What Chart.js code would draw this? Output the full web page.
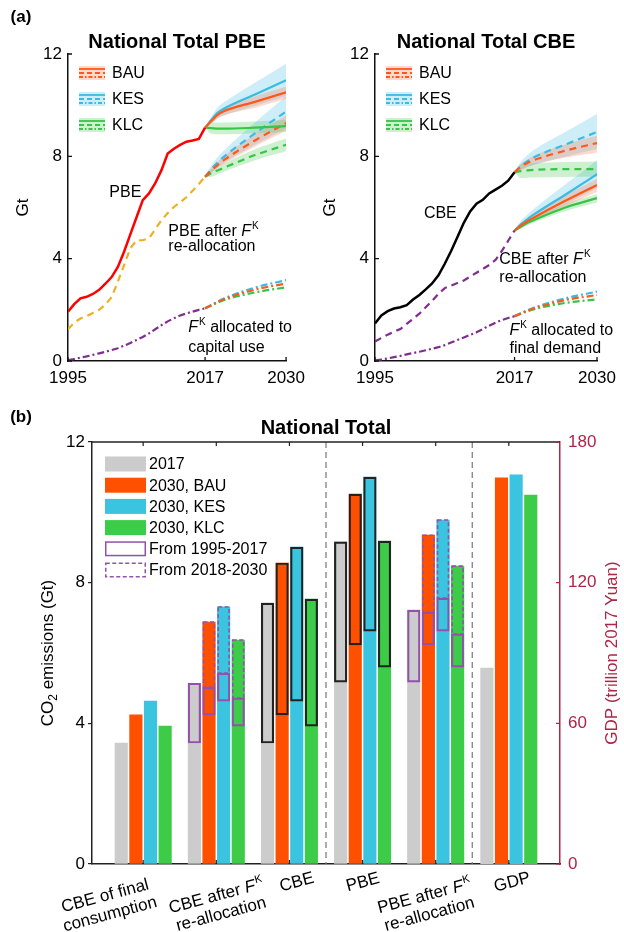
<!DOCTYPE html>
<html>
<head>
<meta charset="utf-8">
<script src="https://cdn.jsdelivr.net/npm/chart.js@4.4.1/dist/chart.umd.min.js"></script>
<style>
  body { margin: 0; background: #fff; }
  #wrap { position: relative; width: 624px; height: 932px; }
  #wrap canvas { position: absolute; }
</style>
</head>
<body>
<div id="wrap">
  <canvas id="pbe" width="312" height="400" style="left:0;top:0"></canvas>
  <canvas id="cbe" width="312" height="400" style="left:312px;top:0"></canvas>
  <canvas id="bars" width="624" height="542" style="left:0;top:390px"></canvas>
</div>
<script>
const FONT = '"Liberation Sans", Arial, Helvetica, sans-serif';

// historical series, Gt CO2
const histYears = [1995, 1996, 1997, 1998, 1999, 2000, 2001, 2002, 2003, 2004, 2005, 2006,
                   2007, 2008, 2009, 2010, 2011, 2012, 2013, 2014, 2015, 2016, 2017];
const pbeHist = [1.93, 2.22, 2.45, 2.51, 2.62, 2.78, 3.02, 3.28, 3.68, 4.27, 4.95, 5.62,
                 6.29, 6.55, 6.95, 7.46, 8.11, 8.30, 8.45, 8.57, 8.62, 8.68, 9.12];
const pbeReallocHist = [1.24, 1.50, 1.66, 1.76, 1.88, 2.00, 2.20, 2.50, 3.10, 3.75, 4.40, 4.72,
                        4.72, 4.80, 5.15, 5.50, 5.78, 6.02, 6.20, 6.40, 6.65, 6.92, 7.20];
const fkCapHist = [0.03, 0.08, 0.13, 0.18, 0.24, 0.30, 0.36, 0.43, 0.50, 0.60, 0.70, 0.82,
                   0.94, 1.08, 1.24, 1.40, 1.55, 1.67, 1.78, 1.86, 1.93, 2.00, 2.06];
const cbeHist = [1.47, 1.78, 1.95, 2.05, 2.10, 2.18, 2.40, 2.58, 2.80, 3.03, 3.35, 3.80,
                 4.30, 4.85, 5.40, 5.85, 6.15, 6.30, 6.55, 6.70, 6.85, 7.05, 7.38];
const cbeReallocHist = [0.76, 0.90, 1.03, 1.15, 1.25, 1.45, 1.65, 1.85, 2.10, 2.35, 2.62, 2.85,
                        2.95, 3.05, 3.15, 3.30, 3.45, 3.60, 3.75, 3.95, 4.30, 4.70, 5.10];
const fkFinHist = [0.02, 0.06, 0.10, 0.15, 0.20, 0.26, 0.31, 0.36, 0.42, 0.48, 0.54, 0.62,
                   0.72, 0.82, 0.92, 1.02, 1.12, 1.25, 1.38, 1.50, 1.60, 1.68, 1.75];

// scenario projections 2017-2030 (central value, low and high of the range)
const projYears = [2017, 2018, 2019, 2020, 2025, 2030];
const pbeBAU   = [9.12, 9.38, 9.62, 9.76, 10.13, 10.50];
const pbeBAULo = [9.12, 9.28, 9.48, 9.60, 9.90, 10.25];
const pbeBAUHi = [9.12, 9.48, 9.74, 9.90, 10.35, 10.72];
const pbeKES   = [9.12, 9.42, 9.70, 9.86, 10.42, 10.97];
const pbeKESLo = [9.12, 9.28, 9.50, 9.60, 9.98, 10.35];
const pbeKESHi = [9.12, 9.56, 9.90, 10.10, 10.88, 11.62];
const pbeKLC   = [9.12, 9.10, 9.08, 9.08, 9.12, 9.18];
const pbeKLCLo = [9.12, 8.88, 8.86, 8.86, 8.90, 8.95];
const pbeKLCHi = [9.12, 9.33, 9.32, 9.32, 9.36, 9.42];

const pbeReBAU   = [7.20, 7.45, 7.66, 7.85, 8.62, 9.30];
const pbeReBAULo = [7.20, 7.36, 7.55, 7.70, 8.38, 9.00];
const pbeReBAUHi = [7.20, 7.55, 7.78, 8.00, 8.86, 9.60];
const pbeReKES   = [7.20, 7.50, 7.76, 7.98, 8.90, 9.75];
const pbeReKESLo = [7.20, 7.36, 7.56, 7.74, 8.45, 9.10];
const pbeReKESHi = [7.20, 7.64, 7.96, 8.22, 9.32, 10.35];
const pbeReKLC   = [7.20, 7.34, 7.45, 7.55, 8.05, 8.45];
const pbeReKLCLo = [7.20, 7.20, 7.30, 7.40, 7.85, 8.20];
const pbeReKLCHi = [7.20, 7.48, 7.60, 7.72, 8.28, 8.70];

const fkCapBAU = [2.06, 2.18, 2.30, 2.41, 2.79, 3.03];
const fkCapKES = [2.06, 2.19, 2.32, 2.44, 2.87, 3.16];
const fkCapKLC = [2.06, 2.17, 2.28, 2.38, 2.68, 2.88];

const cbeBAU   = [7.38, 7.58, 7.74, 7.85, 8.22, 8.52];
const cbeBAULo = [7.38, 7.46, 7.58, 7.67, 7.95, 8.15];
const cbeBAUHi = [7.38, 7.70, 7.88, 8.02, 8.46, 8.80];
const cbeKES   = [7.38, 7.62, 7.80, 7.95, 8.46, 8.95];
const cbeKESLo = [7.38, 7.47, 7.58, 7.66, 7.98, 8.30];
const cbeKESHi = [7.38, 7.78, 8.04, 8.24, 8.95, 9.65];
const cbeKLC   = [7.38, 7.42, 7.45, 7.47, 7.50, 7.50];
const cbeKLCLo = [7.38, 7.15, 7.16, 7.17, 7.19, 7.20];
const cbeKLCHi = [7.38, 7.70, 7.72, 7.74, 7.78, 7.80];

const cbeReBAU   = [5.10, 5.30, 5.46, 5.60, 6.26, 6.88];
const cbeReBAULo = [5.10, 5.21, 5.36, 5.49, 6.06, 6.62];
const cbeReBAUHi = [5.10, 5.39, 5.56, 5.72, 6.46, 7.12];
const cbeReKES   = [5.10, 5.34, 5.54, 5.72, 6.50, 7.30];
const cbeReKESLo = [5.10, 5.20, 5.36, 5.50, 6.12, 6.76];
const cbeReKESHi = [5.10, 5.48, 5.72, 5.94, 6.90, 7.85];
const cbeReKLC   = [5.10, 5.25, 5.39, 5.50, 6.00, 6.37];
const cbeReKLCLo = [5.10, 5.17, 5.30, 5.40, 5.86, 6.20];
const cbeReKLCHi = [5.10, 5.33, 5.48, 5.60, 6.14, 6.52];

const fkFinBAU = [1.75, 1.86, 1.96, 2.05, 2.38, 2.58];
const fkFinKES = [1.75, 1.87, 1.98, 2.08, 2.45, 2.71];
const fkFinKLC = [1.75, 1.85, 1.94, 2.02, 2.27, 2.41];

const yearTicks = [1995, 2017, 2030];
const gtTicks = [0, 4, 8, 12];

// panel (b): groups of bars, slot order 2017 / BAU / KES / KLC
const barGroups = [['CBE of final', 'consumption'], ['CBE after F^K', 're-allocation'], ['CBE'],
                   ['PBE'], ['PBE after F^K', 're-allocation'], ['GDP']];
const emis2017 = [3.44, 5.14, 7.42, 9.16, 7.22];
const emisBAU  = [4.24, 6.88, 8.56, 10.52, 9.35];
const emisKES  = [4.63, 7.31, 9.01, 11.00, 9.78];
const emisKLC  = [3.92, 6.37, 7.53, 9.18, 8.47];
const gdp = [83.6, 164.7, 166.0, 157.4];
const gdpTicks = [0, 60, 120, 180];

const rangeCBE = [[3.44, 7.42], [4.24, 8.56], [4.63, 9.01], [3.92, 7.53]];
const rangePBE = [[5.17, 9.16], [6.23, 10.52], [6.62, 11.00], [5.60, 9.18]];
const pastReallocCBE = [[3.44, 5.14], [4.24, 5.03], [4.63, 5.43], [3.92, 4.72]];
const futureReallocCBE = [null, [5.03, 6.88], [5.43, 7.31], [4.72, 6.37]];
const pastReallocPBE = [[5.17, 7.22], [6.23, 7.16], [6.62, 7.56], [5.60, 6.54]];
const futureReallocPBE = [null, [7.16, 9.35], [7.56, 9.78], [6.54, 8.47]];

// styles
const COL = { BAU: 'rgb(255,88,24)', KES: 'rgb(56,188,226)', KLC: 'rgb(56,196,72)' };
const BAND = { BAU: 'rgba(255,130,90,0.30)', KES: 'rgba(100,200,232,0.32)', KLC: 'rgba(90,205,100,0.30)' };
const GOLD = 'rgb(237,177,32)';
const PURPLE = 'rgb(126,47,142)';
const BOXPURPLE = 'rgb(146,82,172)';
const CRIMSON = 'rgb(176,36,70)';
const GREY = 'rgb(204,204,204)', ORANGE = 'rgb(255,80,0)', CYAN = 'rgb(58,196,224)', GREEN = 'rgb(60,204,72)';
const DASH = [7, 5], DASHDOT = [7, 3, 2, 3];

Chart.defaults.font.family = FONT;
Chart.defaults.color = '#111';

const pts = (xs, ys) => xs.map((x, i) => ({ x, y: ys[i] }));

function line(xs, ys, color, dash, width, smooth) {
  return { data: pts(xs, ys), borderColor: color, borderDash: dash, borderWidth: width,
           pointRadius: 0, fill: false, tension: 0, order: 0,
           cubicInterpolationMode: smooth ? 'monotone' : 'default' };
}
function band(xs, lo, hi, color) {
  return [
    { data: pts(xs, hi), borderWidth: 0, borderColor: 'transparent', backgroundColor: color,
      pointRadius: 0, fill: '+1', order: 1, cubicInterpolationMode: 'monotone' },
    { data: pts(xs, lo), borderWidth: 0, borderColor: 'transparent',
      pointRadius: 0, fill: false, order: 1, cubicInterpolationMode: 'monotone' }
  ];
}

// text with an italic F and superscript K wherever "F^K" appears
function richText(ctx, str, x, y, size, align, color) {
  const segs = [];
  str.split('F^K').forEach((s, i, arr) => {
    if (s) segs.push([s, size + 'px ' + FONT, 0, 0]);
    if (i < arr.length - 1) {
      segs.push(['F', 'italic ' + size + 'px ' + FONT, 0, 1]);
      segs.push(['K', Math.round(size * 0.62) + 'px ' + FONT, -0.42 * size, 0]);
    }
  });
  ctx.save();
  ctx.fillStyle = color || '#000';
  ctx.textAlign = 'left';
  ctx.textBaseline = 'alphabetic';
  let w = 0;
  segs.forEach(sg => { ctx.font = sg[1]; sg.push(ctx.measureText(sg[0]).width + sg[3]); w += sg[4]; });
  let cx = align === 'center' ? x - w / 2 : x;
  const base = y + 0.36 * size;
  segs.forEach(sg => { ctx.font = sg[1]; ctx.fillText(sg[0], cx, base + sg[2]); cx += sg[4]; });
  ctx.restore();
}

const panelDecor = {
  id: 'panelDecor',
  afterDraw(chart, args, o) {
    const { ctx, chartArea: a, scales: { x, y } } = chart;
    ctx.save();
    ctx.strokeStyle = '#111';
    ctx.lineWidth = 1.3;
    ctx.beginPath();
    gtTicks.forEach(v => { const p = y.getPixelForValue(v); ctx.moveTo(a.left, p); ctx.lineTo(a.left + 4, p); });
    yearTicks.forEach(v => { const p = x.getPixelForValue(v); ctx.moveTo(p, a.bottom); ctx.lineTo(p, a.bottom - 4); });
    ctx.stroke();

    ctx.fillStyle = '#000';
    ctx.textAlign = 'center';
    ctx.textBaseline = 'middle';
    ctx.font = 'bold 20px ' + FONT;
    ctx.fillText(o.title, (a.left + a.right) / 2, a.top - 12);
    if (o.panel) {
      ctx.font = 'bold 17px ' + FONT;
      ctx.fillText(o.panel, 21, 17);
    }
    ctx.save();
    ctx.translate(a.left - 45, (a.top + a.bottom) / 2);
    ctx.rotate(-Math.PI / 2);
    ctx.font = '17px ' + FONT;
    ctx.fillText('Gt', 0, 0);
    ctx.restore();

    o.notes.forEach(n => richText(ctx, n.text, x.getPixelForValue(n.x), y.getPixelForValue(n.y), 16, n.align));

    // scenario legend: band swatch with the three line styles
    ['BAU', 'KES', 'KLC'].forEach((s, i) => {
      const cy = a.top + 19 + i * 26;
      const x0 = a.left + 11;
      ctx.fillStyle = BAND[s];
      ctx.fillRect(x0, cy - 7, 26, 14);
      ctx.strokeStyle = COL[s];
      ctx.lineWidth = 1.8;
      [[[], -4], [[5, 3], 0], [[4, 2, 1.5, 2], 4]].forEach(([dash, dy]) => {
        ctx.setLineDash(dash);
        ctx.beginPath();
        ctx.moveTo(x0, cy + dy);
        ctx.lineTo(x0 + 26, cy + dy);
        ctx.stroke();
      });
      ctx.setLineDash([]);
      ctx.fillStyle = '#000';
      ctx.font = '16px ' + FONT;
      ctx.textAlign = 'left';
      ctx.fillText(s, x0 + 33, cy + 1);
    });
    ctx.restore();
  }
};

function panelConfig(datasets, axisLeft, padRight, decor) {
  return {
    type: 'line',
    data: { datasets },
    options: {
      responsive: false, animation: false, events: [],
      layout: { padding: { top: 54, right: padRight, left: 0, bottom: 0 } },
      plugins: { legend: { display: false }, tooltip: { enabled: false }, panelDecor: decor },
      scales: {
        x: {
          type: 'linear', min: 1995, max: 2030,
          afterBuildTicks: s => { s.ticks = yearTicks.map(v => ({ value: v })); },
          afterFit: s => { s.height = 39; },
          grid: { display: false, drawTicks: false },
          border: { color: '#111', width: 1.5 },
          ticks: { font: { size: 17 }, color: '#000', padding: 7, maxRotation: 0, autoSkip: false, callback: v => String(v) }
        },
        y: {
          min: 0, max: 12,
          afterBuildTicks: s => { s.ticks = gtTicks.map(v => ({ value: v })); },
          afterFit: s => { s.width = axisLeft; },
          grid: { display: false, drawTicks: false },
          border: { color: '#111', width: 1.5 },
          ticks: { font: { size: 17 }, color: '#000', padding: 6 }
        }
      }
    },
    plugins: [panelDecor]
  };
}

// (a) left: production-based emissions
const pbeSets = [
  line(histYears, pbeHist, 'rgb(255,0,0)', [], 2.5),
  line(histYears, pbeReallocHist, GOLD, DASH, 2.2),
  line(histYears, fkCapHist, PURPLE, DASHDOT, 2.2),
  ...band(projYears, pbeBAULo, pbeBAUHi, BAND.BAU),
  ...band(projYears, pbeKESLo, pbeKESHi, BAND.KES),
  ...band(projYears, pbeKLCLo, pbeKLCHi, BAND.KLC),
  ...band(projYears, pbeReBAULo, pbeReBAUHi, BAND.BAU),
  ...band(projYears, pbeReKESLo, pbeReKESHi, BAND.KES),
  ...band(projYears, pbeReKLCLo, pbeReKLCHi, BAND.KLC),
  line(projYears, pbeBAU, COL.BAU, [], 2.2, true),
  line(projYears, pbeKES, COL.KES, [], 2.2, true),
  line(projYears, pbeKLC, COL.KLC, [], 2.2, true),
  line(projYears, pbeReBAU, COL.BAU, DASH, 2.2, true),
  line(projYears, pbeReKES, COL.KES, DASH, 2.2, true),
  line(projYears, pbeReKLC, COL.KLC, DASH, 2.2, true),
  line(projYears, fkCapBAU, COL.BAU, DASHDOT, 2.2, true),
  line(projYears, fkCapKES, COL.KES, DASHDOT, 2.2, true),
  line(projYears, fkCapKLC, COL.KLC, DASHDOT, 2.2, true)
];
new Chart(document.getElementById('pbe'), panelConfig(pbeSets, 68, 23, {
  title: 'National Total PBE', panel: '(a)',
  notes: [
    { text: 'PBE', x: 2004.2, y: 6.64, align: 'center' },
    { text: 'PBE after F^K', x: 2011.1, y: 5.12 },
    { text: 're-allocation', x: 2011.1, y: 4.53 },
    { text: 'F^K allocated to', x: 2014.3, y: 1.37 },
    { text: 'capital use', x: 2014.3, y: 0.59 }
  ]
}));

// (a) right: consumption-based emissions
const cbeSets = [
  line(histYears, cbeHist, '#000', [], 2.5),
  line(histYears, cbeReallocHist, PURPLE, DASH, 2.2),
  line(histYears, fkFinHist, PURPLE, DASHDOT, 2.2),
  ...band(projYears, cbeBAULo, cbeBAUHi, BAND.BAU),
  ...band(projYears, cbeKESLo, cbeKESHi, BAND.KES),
  ...band(projYears, cbeKLCLo, cbeKLCHi, BAND.KLC),
  ...band(projYears, cbeReBAULo, cbeReBAUHi, BAND.BAU),
  ...band(projYears, cbeReKESLo, cbeReKESHi, BAND.KES),
  ...band(projYears, cbeReKLCLo, cbeReKLCHi, BAND.KLC),
  line(projYears, cbeBAU, COL.BAU, DASH, 2.2, true),
  line(projYears, cbeKES, COL.KES, DASH, 2.2, true),
  line(projYears, cbeKLC, COL.KLC, DASH, 2.2, true),
  line(projYears, cbeReBAU, COL.BAU, [], 2.2, true),
  line(projYears, cbeReKES, COL.KES, [], 2.2, true),
  line(projYears, cbeReKLC, COL.KLC, [], 2.2, true),
  line(projYears, fkFinBAU, COL.BAU, DASHDOT, 2.2, true),
  line(projYears, fkFinKES, COL.KES, DASHDOT, 2.2, true),
  line(projYears, fkFinKLC, COL.KLC, DASHDOT, 2.2, true)
];
new Chart(document.getElementById('cbe'), panelConfig(cbeSets, 63, 27, {
  title: 'National Total CBE',
  notes: [
    { text: 'CBE', x: 2005.3, y: 5.82, align: 'center' },
    { text: 'CBE after F^K', x: 2014.6, y: 4.02 },
    { text: 're-allocation', x: 2014.6, y: 3.32 },
    { text: 'F^K allocated to', x: 2016.2, y: 1.25 },
    { text: 'final demand', x: 2016.2, y: 0.55 }
  ]
}));

// (b) grouped bars on a numeric x axis: group g, slot s sits at g + slot[s]
const slot = [-0.3, -0.1, 0.1, 0.3];
const groupPts = (vals, s) => vals.map((v, i) => ({ x: i + 1 + slot[s], y: v }));
const boxPts = (g, ranges) => ranges.map((r, s) => r && { x: g + slot[s], y: r }).filter(Boolean);
const labelShift = [-36, 2, 7, 0, -9, 3];

const legendRows = [
  { text: '2017', fill: GREY },
  { text: '2030, BAU', fill: ORANGE },
  { text: '2030, KES', fill: CYAN },
  { text: '2030, KLC', fill: GREEN },
  { text: 'From 1995-2017', stroke: [] },
  { text: 'From 2018-2030', stroke: [4, 2.5] }
];

const barDecor = {
  id: 'barDecor',
  beforeDatasetsDraw(chart) {
    const { ctx, chartArea: a, scales: { x } } = chart;
    ctx.save();
    ctx.strokeStyle = '#777';
    ctx.lineWidth = 1.2;
    ctx.setLineDash([6, 4]);
    [3.5, 5.5].forEach(v => {
      const p = x.getPixelForValue(v);
      ctx.beginPath(); ctx.moveTo(p, a.top); ctx.lineTo(p, a.bottom); ctx.stroke();
    });
    ctx.restore();
  },
  afterDatasetsDraw(chart) {
    const { ctx } = chart;
    const idx = chart.data.datasets.findIndex(d => d.label === 'From 2018-2030');
    ctx.save();
    ctx.strokeStyle = BOXPURPLE;
    ctx.lineWidth = 1.6;
    ctx.setLineDash([4, 2.5]);
    chart.getDatasetMeta(idx).data.forEach(el => {
      const { x, y, base, width } = el.getProps(['x', 'y', 'base', 'width'], true);
      ctx.strokeRect(x - width / 2 + 0.8, Math.min(y, base), width - 1.6, Math.abs(base - y));
    });
    ctx.restore();
  },
  afterDraw(chart) {
    const { ctx, chartArea: a, scales: { x, y2 } } = chart;
    ctx.save();
    // box top edge and inward ticks
    ctx.strokeStyle = '#222';
    ctx.lineWidth = 1.5;
    ctx.beginPath(); ctx.moveTo(a.left, a.top); ctx.lineTo(a.right, a.top); ctx.stroke();
    ctx.lineWidth = 1.2;
    ctx.beginPath();
    barGroups.forEach((g, i) => {
      const p = x.getPixelForValue(i + 1);
      ctx.moveTo(p, a.top); ctx.lineTo(p, a.top + 4);
      ctx.moveTo(p, a.bottom); ctx.lineTo(p, a.bottom - 4);
    });
    ctx.stroke();
    ctx.strokeStyle = CRIMSON;
    ctx.beginPath();
    gdpTicks.forEach(v => { const p = y2.getPixelForValue(v); ctx.moveTo(a.right, p); ctx.lineTo(a.right - 4, p); });
    ctx.stroke();

    // title, panel tag, axis titles
    ctx.fillStyle = '#000';
    ctx.textAlign = 'center';
    ctx.textBaseline = 'middle';
    ctx.font = 'bold 20px ' + FONT;
    ctx.fillText('National Total', (a.left + a.right) / 2, a.top - 14);
    ctx.font = 'bold 17px ' + FONT;
    ctx.fillText('(b)', 21, 27);

    const midY = (a.top + a.bottom) / 2;
    ctx.save();
    ctx.translate(a.left - 45, midY);
    ctx.rotate(-Math.PI / 2);
    ctx.textAlign = 'left';
    ctx.textBaseline = 'alphabetic';
    ctx.font = '17px ' + FONT;
    const w1 = ctx.measureText('CO').width;
    const w3 = ctx.measureText(' emissions (Gt)').width;
    ctx.font = '12px ' + FONT;
    const w2 = ctx.measureText('2').width;
    let cx = -(w1 + w2 + w3) / 2;
    ctx.font = '17px ' + FONT;
    ctx.fillText('CO', cx, 6); cx += w1;
    ctx.font = '12px ' + FONT;
    ctx.fillText('2', cx, 10); cx += w2;
    ctx.font = '17px ' + FONT;
    ctx.fillText(' emissions (Gt)', cx, 6);
    ctx.restore();

    ctx.save();
    ctx.translate(a.right + 52, midY);
    ctx.rotate(-Math.PI / 2);
    ctx.fillStyle = CRIMSON;
    ctx.font = '17px ' + FONT;
    ctx.fillText('GDP (trillion 2017 Yuan)', 0, 0);
    ctx.restore();

    // legend
    legendRows.forEach((r, i) => {
      const cy = a.top + 22 + i * 21.2;
      const x0 = a.left + 13;
      if (r.fill) {
        ctx.fillStyle = r.fill;
        ctx.fillRect(x0, cy - 7.5, 41, 15);
      } else {
        ctx.strokeStyle = BOXPURPLE;
        ctx.lineWidth = 1.5;
        ctx.setLineDash(r.stroke);
        ctx.strokeRect(x0 + 0.75, cy - 6.75, 39.5, 13.5);
        ctx.setLineDash([]);
      }
      ctx.fillStyle = '#000';
      ctx.font = '16px ' + FONT;
      ctx.textAlign = 'left';
      ctx.fillText(r.text, x0 + 44, cy + 1);
    });

    // rotated group labels
    barGroups.forEach((lines, i) => {
      const px = x.getPixelForValue(i + 1) + labelShift[i];
      const cy = a.bottom + (lines.length > 1 ? 40 : 17);
      ctx.save();
      ctx.translate(px, cy);
      ctx.rotate(-15 * Math.PI / 180);
      lines.forEach((t, k) => richText(ctx, t, 0, (k - (lines.length - 1) / 2) * 19, 17, 'center'));
      ctx.restore();
    });
    ctx.restore();
  }
};

new Chart(document.getElementById('bars'), {
  type: 'bar',
  data: {
    datasets: [
      { label: 'total change', data: [...boxPts(3, rangeCBE), ...boxPts(4, rangePBE)],
        backgroundColor: 'rgba(0,0,0,0)', borderColor: '#222', borderWidth: 1.5, borderSkipped: false, order: 0 },
      { label: 'From 1995-2017', data: [...boxPts(2, pastReallocCBE), ...boxPts(5, pastReallocPBE)],
        backgroundColor: 'rgba(0,0,0,0)', borderColor: BOXPURPLE, borderWidth: 1.5, borderSkipped: false, order: 0 },
      { label: 'From 2018-2030', data: [...boxPts(2, futureReallocCBE), ...boxPts(5, futureReallocPBE)],
        backgroundColor: 'rgba(0,0,0,0)', borderWidth: 0, order: 0 },
      { label: '2017', data: groupPts(emis2017, 0), backgroundColor: GREY, order: 1 },
      { label: '2030, BAU', data: groupPts(emisBAU, 1), backgroundColor: ORANGE, order: 1 },
      { label: '2030, KES', data: groupPts(emisKES, 2), backgroundColor: CYAN, order: 1 },
      { label: '2030, KLC', data: groupPts(emisKLC, 3), backgroundColor: GREEN, order: 1 },
      { label: 'GDP', yAxisID: 'y2', data: gdp.map((v, s) => ({ x: 6 + slot[s], y: v })),
        backgroundColor: [GREY, ORANGE, CYAN, GREEN], order: 1 }
    ]
  },
  options: {
    responsive: false, animation: false, events: [],
    datasets: { bar: { grouped: false, barThickness: 12.5 } },
    layout: { padding: { top: 52, left: 0, right: 0, bottom: 0 } },
    plugins: { legend: { display: false }, tooltip: { enabled: false } },
    scales: {
      x: {
        type: 'linear', min: 0.3, max: 6.7, offset: false,
        afterBuildTicks: s => { s.ticks = barGroups.map((g, i) => ({ value: i + 1 })); },
        afterFit: s => { s.height = 68; },
        grid: { display: false, offset: false },
        border: { color: '#222', width: 1.5 },
        ticks: { display: false }
      },
      y: {
        position: 'left', min: 0, max: 12,
        afterBuildTicks: s => { s.ticks = gtTicks.map(v => ({ value: v })); },
        afterFit: s => { s.width = 92; },
        grid: { drawOnChartArea: false, tickLength: 4, color: '#222', lineWidth: 1.2 },
        border: { color: '#222', width: 1.5 },
        ticks: { font: { size: 17 }, color: '#000', padding: 3 }
      },
      y2: {
        position: 'right', min: 0, max: 180,
        afterBuildTicks: s => { s.ticks = gdpTicks.map(v => ({ value: v })); },
        afterFit: s => { s.width = 64; },
        grid: { display: false, drawTicks: false },
        border: { color: CRIMSON, width: 1.5 },
        ticks: { font: { size: 17 }, color: CRIMSON, padding: 8 }
      }
    }
  },
  plugins: [barDecor]
});
</script>
</body>
</html>
